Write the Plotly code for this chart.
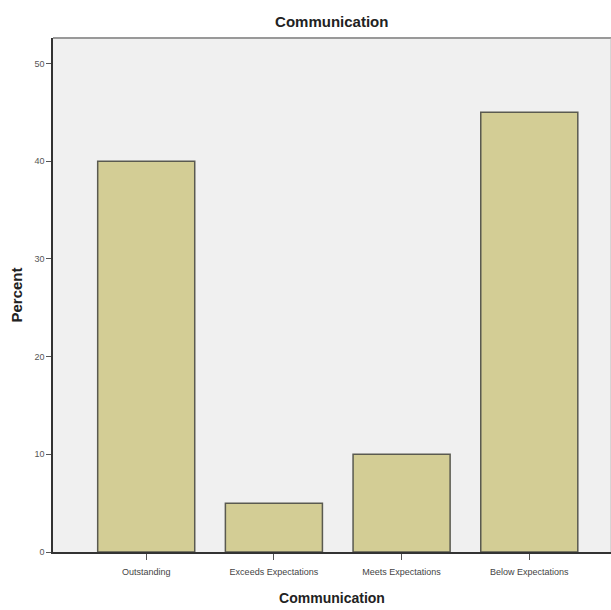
import plotly.graph_objects as go

categories = ["Outstanding", "Exceeds Expectations", "Meets Expectations", "Below Expectations"]
percent = [40, 5, 10, 45]
y_ticks = [0, 10, 20, 30, 40, 50]

fig = go.Figure()
fig.add_trace(go.Bar(
    x=categories, y=percent,
    marker=dict(color="#d3cd95", line=dict(color="#5a5a50", width=1.5)),
    width=0.76,
))

fig.update_layout(
    width=611, height=610,
    margin=dict(l=53, r=0, t=38, b=58, autoexpand=False),
    paper_bgcolor="white",
    plot_bgcolor="#f0f0f0",
    showlegend=False,
    title=dict(text="<b>Communication</b>", x=0.543, xanchor="center", y=0.964, yanchor="middle",
               font=dict(family="Liberation Sans, Arial", size=15, color="#222")),
    font=dict(family="Liberation Sans, Arial", color="#444"),
)
fig.update_xaxes(
    range=[-0.73, 3.64], automargin=False,
    showline=True, linecolor="#333", linewidth=1.5,
    mirror=False, showgrid=False, zeroline=False,
    ticks="outside", ticklen=6, tickcolor="#555", tickwidth=1,
    ticklabelstandoff=4,
    tickfont=dict(size=9, color="#444"),
    title=dict(text="<b>Communication</b>", font=dict(size=14, color="#222"), standoff=18),
)
fig.update_yaxes(
    range=[0, 52.6], automargin=False,
    tickvals=y_ticks,
    showline=True, linecolor="#333", linewidth=1.5,
    showgrid=False, zeroline=False,
    ticks="outside", ticklen=5, tickcolor="#555", tickwidth=1,
    tickfont=dict(size=9, color="#555"),
    title=dict(text="<b>Percent</b>", font=dict(size=15, color="#222"), standoff=8),
)
fig.add_shape(type="line", xref="paper", yref="paper", x0=0, x1=1, y0=1, y1=1,
              line=dict(color="#999", width=2))
fig.add_shape(type="line", xref="paper", yref="paper", x0=1, x1=1, y0=0, y1=1,
              line=dict(color="#bbb", width=1))
fig.write_html("out.html", config={"displayModeBar": False},
               post_script="document.body.style.margin='0';document.body.style.overflow='hidden';")
